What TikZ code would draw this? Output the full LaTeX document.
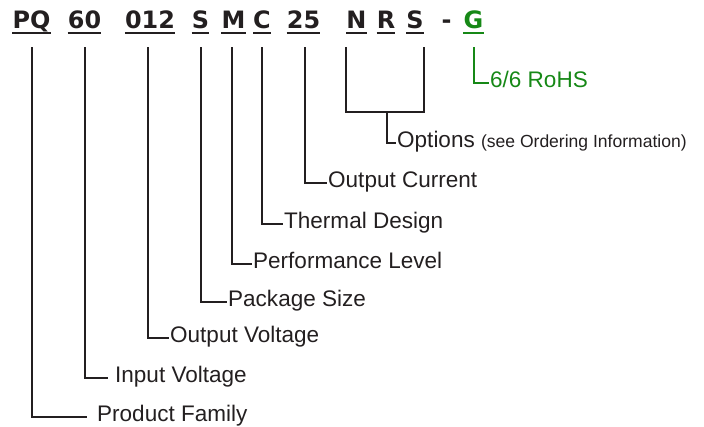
\documentclass[tikz,border=0pt]{standalone}
\usepackage{fontspec}
\setmainfont{Liberation Sans}
\newfontfamily\codefont{DejaVu Sans}
\definecolor{ink}{RGB}{35,31,32}
\definecolor{rohsgreen}{RGB}{22,136,22}
\begin{document}
\begin{tikzpicture}[x=1bp, y=-1bp,
		code/.style={inner sep=0pt, anchor=base, text=ink, font=\codefont\bfseries\fontsize{24}{28}\selectfont},
		lbl/.style={anchor=west, inner sep=1bp, text=ink, text height=14bp, text depth=6bp, font=\fontsize{22.6}{26}\selectfont},
		lead/.style={draw=ink, line width=2bp},
		uline/.style={draw=ink, line width=2bp}]
			\useasboundingbox (0,0) rectangle (704,426);
			
			% part number
			\node[code] (pq) at (31.5,28) {PQ};
			\node[code] (vin) at (84.5,28) {60};
			\node[code] (vout) at (150,28) {012};
			\node[code] (pkg) at (200.5,28) {S};
			\node[code] (perf) at (233.5,28) {M};
			\node[code] (therm) at (262,28) {C};
			\node[code] (iout) at (303.5,28) {25};
			\node[code] (optn) at (356.5,28) {N};
			\node[code] (optr) at (386,28) {R};
			\node[code] (opts) at (415,28) {S};
			\node[code] (dash) at (446.5,28) {-};
			\node[code, text=rohsgreen] (g) at (473.5,28) {G};
			\foreach \c in {pq,vin,vout,pkg,perf,therm,iout,optn,optr,opts}
				\draw[uline] ([yshift=-5bp]\c.base west) -- ([yshift=-5bp]\c.base east);
			\draw[uline, draw=rohsgreen] ([yshift=-5bp]g.base west) -- ([yshift=-5bp]g.base east);
			
			% descriptions
			\node[lbl] (fam) at (96,417) {Product Family};
			\node[lbl] (vinl) at (114,378) {Input Voltage};
			\node[lbl] (voutl) at (169,338) {Output Voltage};
			\node[lbl] (pkgl) at (227,302) {Package Size};
			\node[lbl] (perfl) at (252,264) {Performance Level};
			\node[lbl] (therml) at (283,224) {Thermal Design};
			\node[lbl] (ioutl) at (327,183) {Output Current};
			\node[lbl] (optl) at (396,143) {Options {\fontsize{17.6}{20}\selectfont (see Ordering Information)}};
			\node[lbl, text=rohsgreen] (rohs) at (489,83) {6/6 RoHS};
			
			% leaders
			\draw[lead, shorten >=9bp] ([yshift=-19bp]pq.base) |- (fam.west);
			\draw[lead, shorten >=6bp] ([yshift=-19bp]vin.base) |- (vinl.west);
			\draw[lead] ([xshift=-2bp,yshift=-19bp]vout.base) |- (voutl.west);
			\draw[lead] ([yshift=-19bp]pkg.base) |- (pkgl.west);
			\draw[lead] ([xshift=-2bp,yshift=-19bp]perf.base) |- (perfl.west);
			\draw[lead] ([yshift=-19bp]therm.base) |- (therml.west);
			\draw[lead] ([xshift=1bp,yshift=-19bp]iout.base) |- (ioutl.west);
			\coordinate (optjoin) at (387,112);
			\draw[lead] ([yshift=-19bp]optn.base west) |- (optjoin) -| ([yshift=-19bp]opts.base east);
			\draw[lead] (optjoin) |- (optl.west);
			\draw[lead, draw=rohsgreen] ([yshift=-19bp]g.base) |- (rohs.west);
		
		\end{tikzpicture}
\end{document}
